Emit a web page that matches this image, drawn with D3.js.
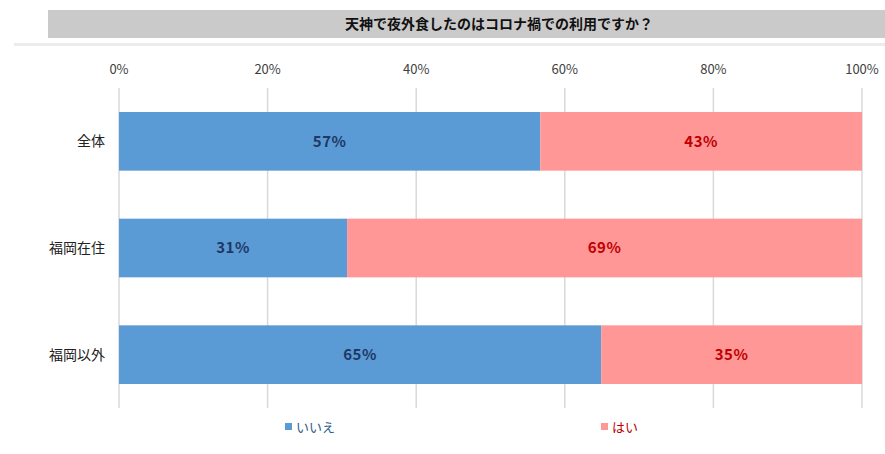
<!DOCTYPE html>
<html lang="ja">
<head>
<meta charset="UTF-8">
<title>天神で夜外食したのはコロナ禍での利用ですか？</title>
<script src="https://cdn.jsdelivr.net/npm/d3@7"></script>
<style>
  body { margin: 0; background: #fff; }
  text { font-family: "Noto Sans CJK JP", "Noto Sans", sans-serif; }
</style>
</head>
<body>
<script>
    // data
    var categories = ["全体", "福岡在住", "福岡以外"];
    var seriesNames = ["いいえ", "はい"];
    var noValues = [56.7, 30.7, 64.9];
    var yesValues = [43.3, 69.3, 35.1];
    var ticks = [0, 20, 40, 60, 80, 100];
    var titleText = "天神で夜外食したのはコロナ禍での利用ですか？";

    var colors = ["#5b9bd5", "#ff9797"];
    var labelColors = ["#1f3864", "#c00000"];

    var widthSVG = 885, heightSVG = 454;
    var svg = d3.select("body").append("svg")
                .attr("width", widthSVG)
                .attr("height", heightSVG);

    // title band
    svg.append("rect").attr("x", 48).attr("y", 10).attr("width", 837).attr("height", 28).attr("fill", "#cacaca");
    svg.append("rect").attr("x", 14).attr("y", 43).attr("width", 871).attr("height", 3).attr("fill", "#ececec");
    svg.append("text")
        .attr("x", 499).attr("y", 29)
        .attr("text-anchor", "middle")
        .attr("font-size", "14px")
        .attr("font-weight", "bold")
        .attr("fill", "#111")
        .text(titleText);

    var padding = {top: 88, bottom: 46, left: 119, right: 23};

    var scaleX = d3.scaleLinear()
                    .domain([0, 100])
                    .range([padding.left, widthSVG - padding.right]);

    var scaleY = d3.scaleBand()
                    .domain(categories)
                    .range([padding.top, heightSVG - padding.bottom])
                    .paddingInner(0.45)
                    .paddingOuter(0.225);

    // gridlines
    svg.append("g").selectAll("line")
        .data(ticks)
        .enter()
        .append("line")
        .attr("x1", function (d) { return scaleX(d); })
        .attr("x2", function (d) { return scaleX(d); })
        .attr("y1", padding.top)
        .attr("y2", heightSVG - padding.bottom)
        .attr("stroke", "#d9d9d9")
        .attr("stroke-width", 1.5);

    // tick labels on top
    svg.append("g").selectAll("text")
        .data(ticks)
        .enter()
        .append("text")
        .attr("x", function (d) { return scaleX(d); })
        .attr("y", 74)
        .attr("text-anchor", "middle")
        .attr("font-size", "13px")
        .attr("fill", "#404040")
        .text(function (d) { return d + "%"; });

    // category labels
    svg.append("g").selectAll("text")
        .data(categories)
        .enter()
        .append("text")
        .attr("x", 105)
        .attr("y", function (d) { return scaleY(d) + scaleY.bandwidth() / 2; })
        .attr("dy", "0.35em")
        .attr("text-anchor", "end")
        .attr("font-size", "14px")
        .attr("fill", "#222")
        .text(function (d) { return d; });

    // stacked bars
    var rows = categories.map(function (c, i) {
        return {cat: c, parts: [
            {s: 0, x0: 0, x1: noValues[i], v: noValues[i]},
            {s: 1, x0: noValues[i], x1: noValues[i] + yesValues[i], v: yesValues[i]}
        ]};
    });

    var groups = svg.append("g").selectAll("g")
        .data(rows)
        .enter()
        .append("g");

    groups.selectAll("rect")
        .data(function (d) { return d.parts.map(function (p) { p.cat = d.cat; return p; }); })
        .enter()
        .append("rect")
        .attr("x", function (d) { return scaleX(d.x0); })
        .attr("y", function (d) { return scaleY(d.cat); })
        .attr("width", function (d) { return scaleX(d.x1) - scaleX(d.x0); })
        .attr("height", scaleY.bandwidth())
        .attr("fill", function (d) { return colors[d.s]; });

    groups.selectAll("text")
        .data(function (d) { return d.parts; })
        .enter()
        .append("text")
        .attr("x", function (d) { return (scaleX(d.x0) + scaleX(d.x1)) / 2; })
        .attr("y", function (d) { return scaleY(d.cat) + scaleY.bandwidth() / 2; })
        .attr("dy", "0.35em")
        .attr("text-anchor", "middle")
        .attr("font-size", "15px")
        .attr("font-weight", "bold")
        .attr("letter-spacing", "0.5px")
        .attr("fill", function (d) { return labelColors[d.s]; })
        .text(function (d) { return Math.round(d.v) + "%"; });

    // legend
    var legendX = [285, 601];
    var legend = svg.append("g").selectAll("g")
        .data(seriesNames)
        .enter()
        .append("g")
        .attr("transform", function (d, i) { return "translate(" + legendX[i] + ",427)"; });

    legend.append("rect")
        .attr("x", 0).attr("y", -4)
        .attr("width", 7).attr("height", 7)
        .attr("fill", function (d, i) { return colors[i]; });

    legend.append("text")
        .attr("x", 11).attr("y", 0)
        .attr("dy", "0.35em")
        .attr("font-size", "13px")
        .attr("fill", function (d, i) { return i === 0 ? "#2e5c8a" : "#c00000"; })
        .text(function (d) { return d; });
</script>
</body>
</html>
